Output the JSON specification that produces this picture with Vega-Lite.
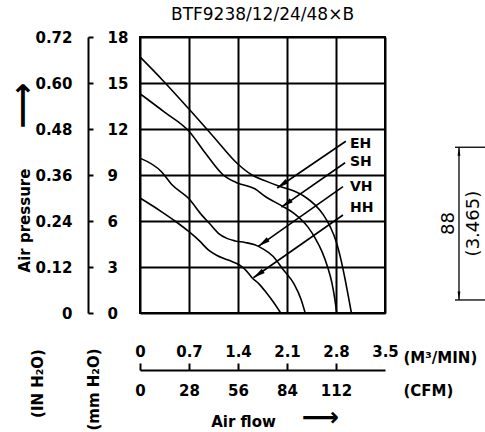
{
  "$schema": "https://vega.github.io/schema/vega-lite/v6.json",
  "width": 245,
  "height": 276,
  "autosize": {"type": "none"},
  "padding": {"left": 140, "top": 37, "right": 100, "bottom": 119},
  "background": "white",
  "title": {"text": "BTF9238/12/24/48×B", "font": "DejaVu Sans", "fontSize": 17, "fontWeight": "normal", "color": "black", "anchor": "middle", "frame": "group", "offset": 6},
  "config": {
    "view": {"stroke": "black", "strokeWidth": 2},
    "axis": {
      "labelFont": "DejaVu Sans", "labelFontSize": 15, "labelFontWeight": "bold", "labelColor": "black",
      "titleFont": "DejaVu Sans", "titleFontSize": 15, "titleFontWeight": "bold", "titleColor": "black",
      "domainColor": "black", "tickColor": "black", "gridColor": "black", "gridOpacity": 1,
      "labelFlush": false, "labelOverlap": false, "labelBound": false, "grid": false
    }
  },
  "datasets": {
    "curves": [
      {"series": "EH", "flow": 0, "pressure": 16.7}, {"series": "EH", "flow": 0.33, "pressure": 15.15}, {"series": "EH", "flow": 0.7, "pressure": 13.3}, {"series": "EH", "flow": 1.05, "pressure": 11.5}, {"series": "EH", "flow": 1.39, "pressure": 9.75}, {"series": "EH", "flow": 1.6, "pressure": 9.0}, {"series": "EH", "flow": 1.8, "pressure": 8.6}, {"series": "EH", "flow": 2.0, "pressure": 8.25}, {"series": "EH", "flow": 2.2, "pressure": 7.95}, {"series": "EH", "flow": 2.35, "pressure": 7.6}, {"series": "EH", "flow": 2.5, "pressure": 7.05}, {"series": "EH", "flow": 2.62, "pressure": 6.4}, {"series": "EH", "flow": 2.72, "pressure": 5.6}, {"series": "EH", "flow": 2.8, "pressure": 4.7}, {"series": "EH", "flow": 2.87, "pressure": 3.5}, {"series": "EH", "flow": 2.93, "pressure": 2.2}, {"series": "EH", "flow": 2.98, "pressure": 1.0}, {"series": "EH", "flow": 3.02, "pressure": 0},
      {"series": "SH", "flow": 0, "pressure": 14.3}, {"series": "SH", "flow": 0.35, "pressure": 13.1}, {"series": "SH", "flow": 0.7, "pressure": 11.85}, {"series": "SH", "flow": 0.93, "pressure": 10.45}, {"series": "SH", "flow": 1.19, "pressure": 9.0}, {"series": "SH", "flow": 1.38, "pressure": 8.5}, {"series": "SH", "flow": 1.64, "pressure": 8.1}, {"series": "SH", "flow": 1.79, "pressure": 7.6}, {"series": "SH", "flow": 2.02, "pressure": 7.0}, {"series": "SH", "flow": 2.2, "pressure": 6.5}, {"series": "SH", "flow": 2.4, "pressure": 5.6}, {"series": "SH", "flow": 2.5, "pressure": 4.9}, {"series": "SH", "flow": 2.6, "pressure": 4.0}, {"series": "SH", "flow": 2.68, "pressure": 3.0}, {"series": "SH", "flow": 2.74, "pressure": 2.0}, {"series": "SH", "flow": 2.78, "pressure": 1.0}, {"series": "SH", "flow": 2.81, "pressure": 0},
      {"series": "VH", "flow": 0, "pressure": 10.1}, {"series": "VH", "flow": 0.31, "pressure": 9.2}, {"series": "VH", "flow": 0.45, "pressure": 8.4}, {"series": "VH", "flow": 0.7, "pressure": 7.45}, {"series": "VH", "flow": 0.88, "pressure": 6.4}, {"series": "VH", "flow": 1.0, "pressure": 5.8}, {"series": "VH", "flow": 1.12, "pressure": 5.2}, {"series": "VH", "flow": 1.25, "pressure": 4.85}, {"series": "VH", "flow": 1.36, "pressure": 4.7}, {"series": "VH", "flow": 1.5, "pressure": 4.6}, {"series": "VH", "flow": 1.64, "pressure": 4.45}, {"series": "VH", "flow": 1.75, "pressure": 4.2}, {"series": "VH", "flow": 1.9, "pressure": 3.7}, {"series": "VH", "flow": 2.05, "pressure": 2.8}, {"series": "VH", "flow": 2.2, "pressure": 1.9}, {"series": "VH", "flow": 2.3, "pressure": 0.9}, {"series": "VH", "flow": 2.36, "pressure": 0},
      {"series": "HH", "flow": 0, "pressure": 7.5}, {"series": "HH", "flow": 0.31, "pressure": 6.6}, {"series": "HH", "flow": 0.5, "pressure": 6.0}, {"series": "HH", "flow": 0.7, "pressure": 5.3}, {"series": "HH", "flow": 0.85, "pressure": 4.7}, {"series": "HH", "flow": 0.98, "pressure": 4.1}, {"series": "HH", "flow": 1.1, "pressure": 3.75}, {"series": "HH", "flow": 1.26, "pressure": 3.45}, {"series": "HH", "flow": 1.43, "pressure": 3.1}, {"series": "HH", "flow": 1.52, "pressure": 2.75}, {"series": "HH", "flow": 1.6, "pressure": 2.3}, {"series": "HH", "flow": 1.7, "pressure": 1.9}, {"series": "HH", "flow": 1.8, "pressure": 1.35}, {"series": "HH", "flow": 1.9, "pressure": 0.75}, {"series": "HH", "flow": 2.01, "pressure": 0}
    ],
    "arrows": [
      {"series": "EH", "x1": 2.94, "y1": 11.2, "x2": 1.96, "y2": 8.15},
      {"series": "SH", "x1": 2.93, "y1": 9.8, "x2": 2.02, "y2": 6.9},
      {"series": "VH", "x1": 2.9, "y1": 8.24, "x2": 1.69, "y2": 4.35},
      {"series": "HH", "x1": 2.9, "y1": 6.39, "x2": 1.62, "y2": 2.3}
    ],
    "labels": [
      {"series": "EH", "x": 3.0, "y": 11.0},
      {"series": "SH", "x": 3.0, "y": 9.85},
      {"series": "VH", "x": 3.0, "y": 8.2},
      {"series": "HH", "x": 3.0, "y": 6.85}
    ],
    "dimlines": [
      {"x1": 4.557, "y1": 10.81, "x2": 4.557, "y2": 0.85},
      {"x1": 4.5, "y1": 10.81, "x2": 4.95, "y2": 10.81},
      {"x1": 4.5, "y1": 0.85, "x2": 4.95, "y2": 0.85}
    ],
    "dimends": [
      {"end": "top", "x": 4.557, "y": 10.81},
      {"end": "bottom", "x": 4.557, "y": 0.85}
    ],
    "dimtext": [
      {"label": "88", "x": 4.41, "y": 5.83},
      {"label": "(3.465)", "x": 4.77, "y": 5.83}
    ]
  },
  "resolve": {"axis": {"x": "independent", "y": "independent"}},
  "layer": [
    {
      "data": {"name": "curves"},
      "mark": {"type": "line", "interpolate": "monotone", "color": "black", "strokeWidth": 1.6},
      "encoding": {
        "x": {"field": "flow", "type": "quantitative", "scale": {"domain": [0, 3.5], "nice": false},
          "axis": {"orient": "top", "offset": -333, "values": [0, 0.7, 1.4, 2.1, 2.8, 3.5], "format": "~g",
            "domain": true, "domainWidth": 2, "ticks": true, "tickSize": 7, "tickWidth": 2,
            "tickOpacity": {"condition": {"test": "datum.value >= 3.5", "value": 0}, "value": 1},
            "labelPadding": 4, "title": "(M³/MIN)", "titleX": 263, "titleY": -13, "titleAngle": 0, "titleAlign": "left", "titleBaseline": "middle"}},
        "y": {"field": "pressure", "type": "quantitative", "scale": {"domain": [0, 18], "nice": false},
          "axis": {"orient": "left", "offset": 52, "values": [0, 3, 6, 9, 12, 15, 18],
            "labelExpr": "datum.value == 0 ? '0' : format(datum.value * 0.04, '.2f')",
            "domain": false, "ticks": false, "tickSize": 0, "labelPadding": 16,
            "title": "Air pressure", "titleX": -64, "titleY": 183, "titleAngle": 270, "titleAlign": "center", "titleBaseline": "middle"}},
        "detail": {"field": "series", "type": "nominal"}
      }
    },
    {
      "data": {"name": "arrows"},
      "mark": {"type": "rule", "color": "black", "strokeWidth": 1.6},
      "encoding": {
        "x": {"field": "x1", "type": "quantitative", "scale": {"domain": [0, 3.5], "nice": false},
          "axis": {"orient": "bottom", "offset": 57, "values": [0, 0.7, 1.4, 2.1, 2.8],
            "labelExpr": "format(datum.value * 40, 'd')",
            "domain": false, "ticks": false, "tickSize": 0, "labelPadding": 13,
            "title": "(CFM)", "titleX": 263, "titleY": 20, "titleAngle": 0, "titleAlign": "left", "titleBaseline": "middle"}},
        "x2": {"field": "x2"},
        "y": {"field": "y1", "type": "quantitative", "scale": {"domain": [0, 18], "nice": false},
          "axis": {"orient": "right", "offset": -297, "values": [0, 3, 6, 9, 12, 15, 18], "format": "d",
            "domain": true, "domainWidth": 2, "ticks": true, "tickSize": 5, "tickWidth": 2, "labelPadding": 14,
            "title": "(mm H₂O)", "titleX": 5, "titleY": 352, "titleAngle": 270, "titleAlign": "center", "titleBaseline": "middle"}},
        "y2": {"field": "y2"}
      }
    },
    {
      "data": {"name": "arrows"},
      "mark": {"type": "point", "shape": "M0,0L0.5,2.4L-0.5,2.4Z", "filled": true, "color": "black", "opacity": 1, "size": 100, "angle": 235, "strokeWidth": 0},
      "encoding": {
        "x": {"field": "x2", "type": "quantitative", "scale": {"domain": [0, 3.5], "nice": false},
          "axis": {"orient": "bottom", "grid": true, "gridWidth": 2, "gridColor": "black", "values": [0, 0.7, 1.4, 2.1, 2.8, 3.5],
            "domain": false, "ticks": false, "tickSize": 0, "labels": false,
            "title": "Air flow", "titleX": 103, "titleY": 108, "titleAngle": 0, "titleAlign": "center", "titleBaseline": "middle"}},
        "y": {"field": "y2", "type": "quantitative", "scale": {"domain": [0, 18], "nice": false},
          "axis": {"orient": "left", "grid": true, "gridWidth": 2, "gridColor": "black", "values": [0, 3, 6, 9, 12, 15, 18],
            "domain": false, "ticks": false, "tickSize": 0, "labels": false,
            "title": "(IN H₂O)", "titleX": -103, "titleY": 346, "titleAngle": 270, "titleAlign": "center", "titleBaseline": "middle"}}
      }
    },
    {
      "data": {"name": "labels"},
      "mark": {"type": "text", "align": "left", "baseline": "middle", "fontSize": 14, "fontWeight": "bold", "font": "DejaVu Sans", "color": "black"},
      "encoding": {
        "x": {"field": "x", "type": "quantitative", "scale": {"domain": [0, 3.5], "nice": false},
          "axis": {"orient": "bottom", "domain": false, "ticks": false, "tickSize": 0, "labels": false,
            "title": "⟶", "titleX": 180, "titleY": 104, "titleAngle": 0, "titleAlign": "center", "titleBaseline": "middle", "titleFontWeight": "bold", "titleFontSize": 26}},
        "y": {"field": "y", "type": "quantitative", "scale": {"domain": [0, 18], "nice": false},
          "axis": {"orient": "left", "domain": false, "ticks": false, "tickSize": 0, "labels": false,
            "title": "⟶", "titleX": -118, "titleY": 68, "titleAngle": 270, "titleAlign": "center", "titleBaseline": "middle", "titleFontWeight": "bold", "titleFontSize": 32}},
        "text": {"field": "series"}
      }
    },
    {
      "data": {"name": "dimlines"},
      "mark": {"type": "rule", "color": "black", "strokeWidth": 1.3},
      "encoding": {
        "x": {"field": "x1", "type": "quantitative", "scale": {"domain": [0, 3.5], "nice": false}, "axis": null},
        "x2": {"field": "x2"},
        "y": {"field": "y1", "type": "quantitative", "scale": {"domain": [0, 18], "nice": false}, "axis": null},
        "y2": {"field": "y2"}
      }
    },
    {
      "data": {"name": "dimends"},
      "mark": {"type": "point", "filled": true, "color": "black", "opacity": 1, "size": 49, "strokeWidth": 0},
      "encoding": {
        "x": {"field": "x", "type": "quantitative", "scale": {"domain": [0, 3.5], "nice": false}, "axis": null},
        "y": {"field": "y", "type": "quantitative", "scale": {"domain": [0, 18], "nice": false}, "axis": null},
        "shape": {"field": "end", "type": "nominal", "scale": {"domain": ["top", "bottom"], "range": ["M0,0L0.4,2.4L-0.4,2.4Z", "M0,0L0.4,-2.4L-0.4,-2.4Z"]}, "legend": null}
      }
    },
    {
      "data": {"name": "dimtext"},
      "mark": {"type": "text", "angle": 270, "align": "center", "baseline": "middle", "fontSize": 18, "fontWeight": "normal", "font": "DejaVu Sans", "color": "black"},
      "encoding": {
        "x": {"field": "x", "type": "quantitative", "scale": {"domain": [0, 3.5], "nice": false}, "axis": null},
        "y": {"field": "y", "type": "quantitative", "scale": {"domain": [0, 18], "nice": false}, "axis": null},
        "text": {"field": "label"}
      }
    }
  ]
}
